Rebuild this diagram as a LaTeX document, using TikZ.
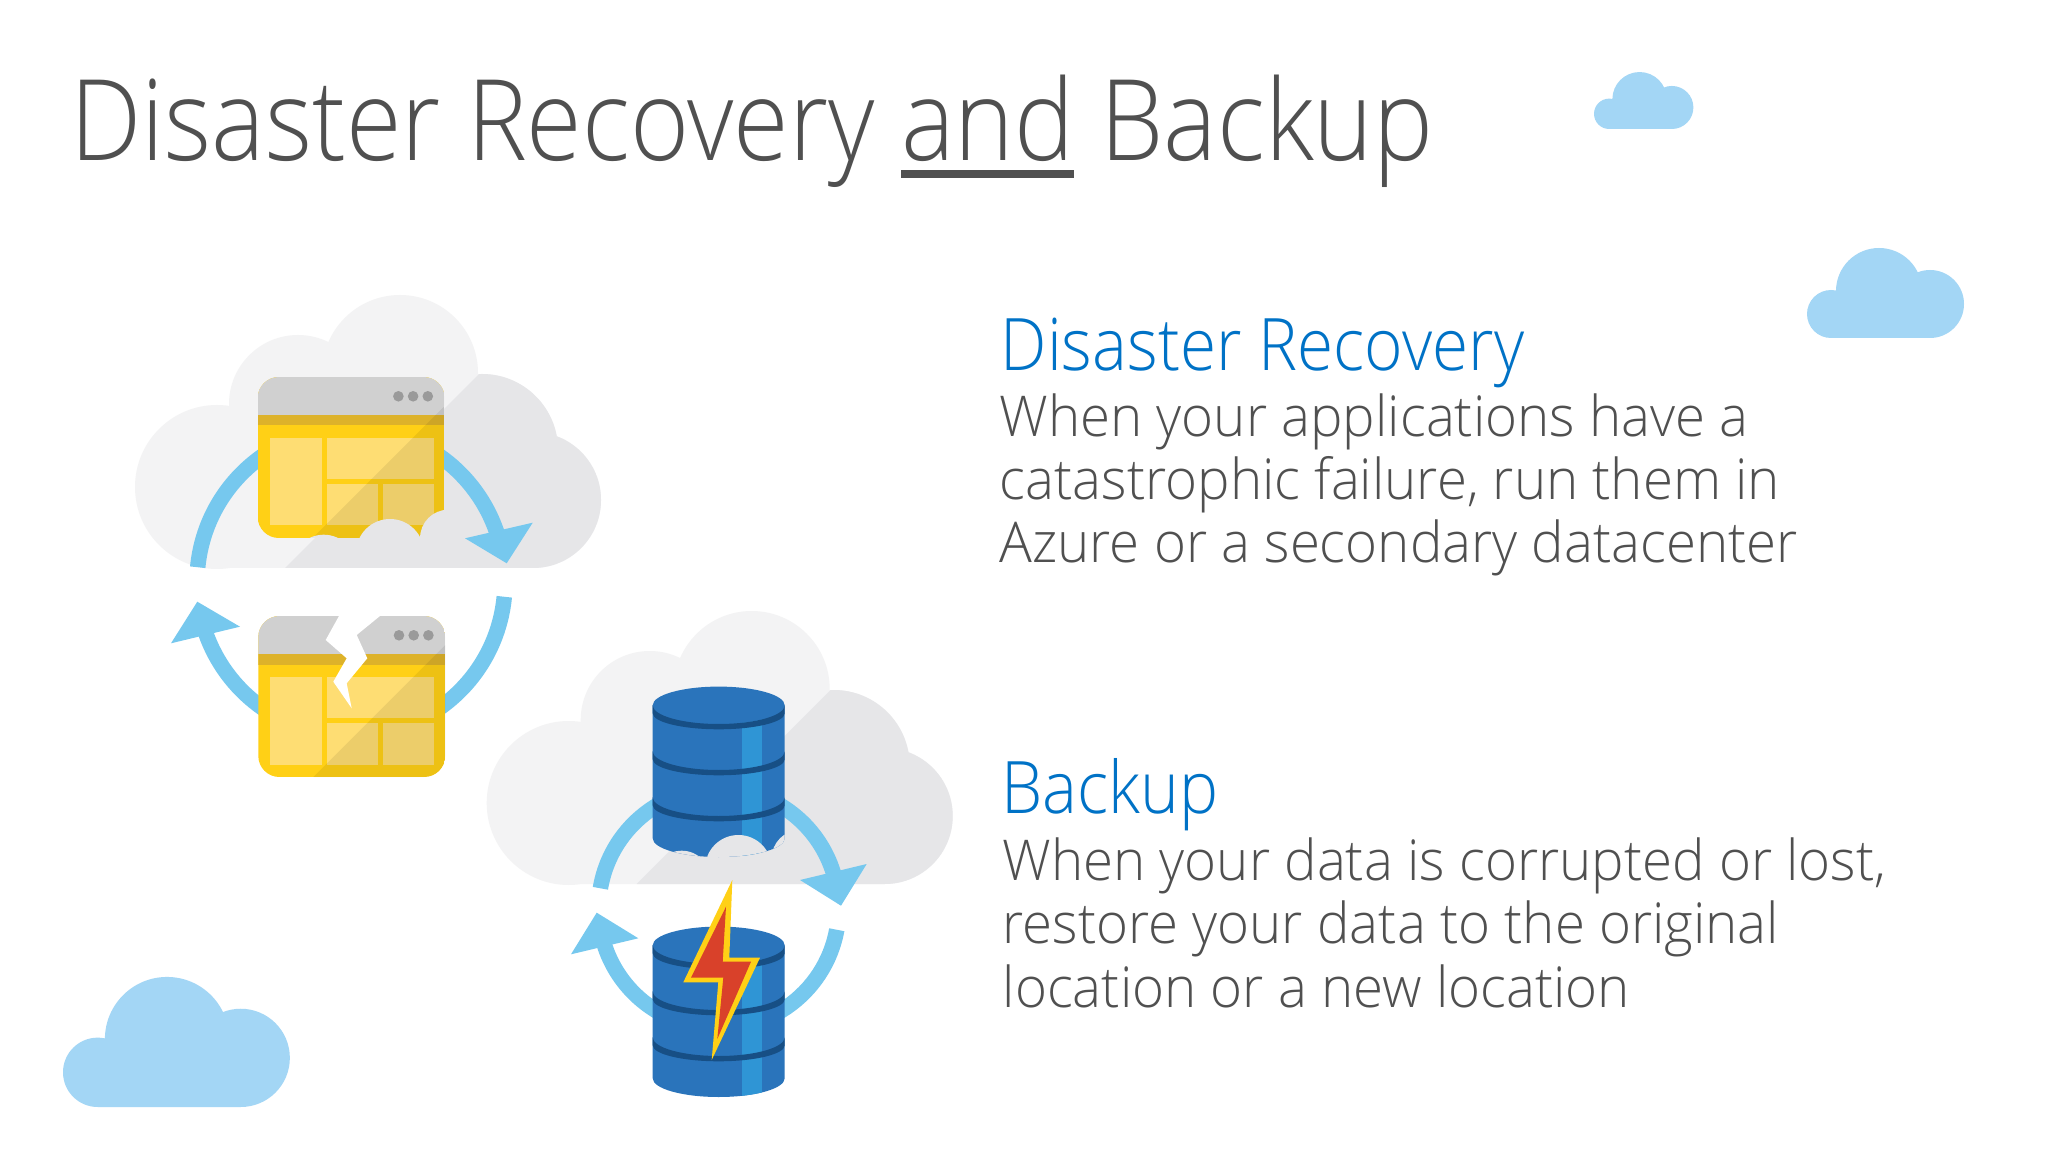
\documentclass[tikz,border=0pt]{standalone}
\usepackage{fontspec}
\newfontfamily\titlefont[UprightFont={* Light}, FakeStretch=.897]{Open Sans}
\newfontfamily\headfont[UprightFont={* Light}, FakeStretch=.907]{Open Sans}
\newfontfamily\bodyfont[UprightFont={* Light}, FakeStretch=.97]{Open Sans}
\usetikzlibrary{positioning}

\definecolor{cloudbase}{HTML}{F3F3F4}
\definecolor{cloudshade}{HTML}{E6E6E8}
\definecolor{skycloud}{HTML}{A3D6F5}
\definecolor{ringblue}{HTML}{76C8EE}
\definecolor{inktext}{HTML}{505050}
\definecolor{headblue}{HTML}{0072C6}
\definecolor{winyellow}{HTML}{FFD016}
\definecolor{winband}{HTML}{DDB22A}
\definecolor{winpanel}{HTML}{FEDD73}
\definecolor{wintitle}{HTML}{D0D0D0}
\definecolor{windot}{HTML}{9A9A9A}
\definecolor{dbbody}{HTML}{2A74BB}
\definecolor{dbband}{HTML}{174F85}
\definecolor{dbstripe}{HTML}{2F95D5}
\definecolor{boltred}{HTML}{D9412A}

\newcommand{\ulword}[1]{\setbox0\hbox{#1}\rlap{\rule[-4.8pt]{\wd0}{2.2pt}}#1}
\def\cloudpath{(217,487) circle[radius=82] (298,404) circle[radius=69] (400,373) circle[radius=78]
    (482,450) circle[radius=76] (533,500) circle[radius=68] (217,450) -- (533,450) -- (533,568) -- (217,568) -- cycle}
\def\dbpath{(-66,0) -- (-66,133) arc[start angle=180, end angle=0, x radius=66, y radius=18.7] -- (66,0) -- cycle}

\tikzset{
    titletext/.style={anchor=base west, inner sep=0pt, text=inktext, font=\titlefont\fontsize{32}{32}\selectfont},
    headtext/.style={anchor=base west, inner sep=0pt, text=headblue, font=\headfont\fontsize{20.6}{20.6}\selectfont},
    bodytext/.style={anchor=base west, inner sep=0pt, text=inktext, font=\bodyfont\fontsize{16}{16}\selectfont},
    ringline/.style={draw=ringblue, line width=4.4pt},
    pics/skycloud/.style={code={
        \fill[skycloud] (24,-24) circle[radius=24] (72,-47) circle[radius=43] (123,-34) circle[radius=34]
            (24,-24) -- (123,-24) -- (123,0) -- (24,0) -- cycle;
    }},
    pics/graycloud/.style={code={
        \fill[cloudbase] \cloudpath;
        \begin{scope}
            \clip \cloudpath;
            \fill[cloudshade] (285,568) -- (495,358) -- (620,358) -- (620,568) -- cycle;
        \end{scope}
    }},
    pics/window/.style={code={
        \begin{scope}
            \clip[rounded corners=6] (0,0) rectangle (187,161);
            \fill[winyellow] (0,0) rectangle (187,161);
            \fill[wintitle] (0,0) rectangle (187,38);
            \fill[winband] (0,38) rectangle (187,48.5);
            \fill[winpanel] (12,61) rectangle (64,148.5);
            \fill[winpanel] (69,61) rectangle (176,102);
            \fill[winpanel] (69,107) rectangle (120,148.5);
            \fill[winpanel] (125,107) rectangle (176,148.5);
            \foreach \i in {0,1,2} {
                \fill[windot] (140.7+14.7*\i,19.3) circle[radius=5.3];
            }
            \fill[black, opacity=.07] (216,0) -- (187,0) -- (187,161) -- (55,161) -- cycle;
        \end{scope}
    }},
    pics/database/.style={code={
        \fill[dbbody] \dbpath;
        \begin{scope}
            \clip \dbpath;
            \fill[dbstripe] (23.7,0) rectangle (43.7,160);
        \end{scope}
        \fill[dbbody] (0,0) circle[x radius=66, y radius=18.7];
        \foreach \o in {0,46,92} {
            \fill[dbband] (-66,\o) arc[start angle=180, end angle=0, x radius=66, y radius=18.7]
                -- (66,\o+8) arc[start angle=0, end angle=180, x radius=66, y radius=16] -- cycle;
        }
    }}
}

\begin{document}
\begin{tikzpicture}[x=0.01cm, y=-0.01cm]
    \useasboundingbox (0,0) rectangle (2048,1152);
    \fill[white] (0,0) rectangle (2048,1152);

    % Sky clouds
    \pic at (1594,129) [scale=0.633] {skycloud};
    \pic at (1807,338) {skycloud};
    \pic at (63,1107) [scale=1.445] {skycloud};

    % Title and text
    \node[titletext] (title) at (70,160.7) {Disaster Recovery \ulword{and} Backup};
    \node[headtext] (drhead) at (1000,371) {Disaster Recovery};
    \node[bodytext] (drone) at (999,437) {When your applications have a};
    \node[bodytext] (drtwo) at (999,500) {catastrophic failure, run them in};
    \node[bodytext] (drthree) at (999,563) {Azure or a secondary datacenter};
    \node[headtext] (bkhead) at (1001,813) {Backup};
    \node[bodytext] (bkone) at (1002,880) {When your data is corrupted or lost,};
    \node[bodytext] (bktwo) at (1002,943) {restore your data to the original};
    \node[bodytext] (bkthree) at (1002,1007) {location or a new location};

    % Application failover
    \pic at (0,0) {graycloud};
    \coordinate (ringapp) at (351,582);
    \draw[ringline] (ringapp) ++(-174.5:154) arc[start angle=-174.5, end angle=-17, radius=154];
    \draw[ringline] (ringapp) ++(5.5:154) arc[start angle=5.5, end angle=163, radius=154];
    \fill[ringblue] (506.7,563.3) -- (465,538.3) -- (532.7,522.7) -- cycle;
    \fill[ringblue] (197.3,601.7) -- (240,626.7) -- (171,643.3) -- cycle;

    \pic at (257.7,377) {window};
    \begin{scope}[shift={(257.7,377)}]
        \clip (0,100) rectangle (187,161);
        \fill[cloudshade] (132.3,176) circle[radius=34] (190.7,161) circle[radius=28.3] (66,190) circle[radius=32.3];
    \end{scope}

    \pic at (258.3,616) {window};
    \fill[white] (339,616) -- (325.7,640) -- (346.7,658.3) -- (333.3,681.7) -- (351.7,708.3) -- (346.7,683.3)
        -- (367.3,658.3) -- (356.7,635) -- (380,616) -- cycle;

    % Database restore
    \pic at (351.7,316) {graycloud};
    \coordinate (ringdb) at (718.7,908.3);
    \draw[ringline] (ringdb) ++(-170.4:120) arc[start angle=-170.4, end angle=-15, radius=120];
    \draw[ringline] (ringdb) ++(10.3:120) arc[start angle=10.3, end angle=165, radius=120];
    \fill[ringblue] (841,905.7) -- (800,880) -- (866.7,864) -- cycle;
    \fill[ringblue] (596.7,912.7) -- (638.3,938.3) -- (571,954.3) -- cycle;

    \pic at (718.7,705.3) {database};
    \begin{scope}[shift={(718.7,705.3)}]
        \clip \dbpath;
        \fill[cloudshade] (19.7,163) circle[radius=33.3] (81.3,153) circle[radius=28.3] (-37,174.7) circle[radius=29.3];
    \end{scope}

    \pic at (718.7,945.3) {database};
    \fill[winyellow] (732.3,880) -- (729.3,957.7) -- (760,957.7) -- (711.7,1060) -- (718.3,982.3) -- (683.3,982.3) -- cycle;
    \fill[boltred] (726,906.7) -- (722.7,961.7) -- (751,961.7) -- (717.3,1039) -- (723.3,977.7) -- (691,977.7) -- cycle;
\end{tikzpicture}
\end{document}
